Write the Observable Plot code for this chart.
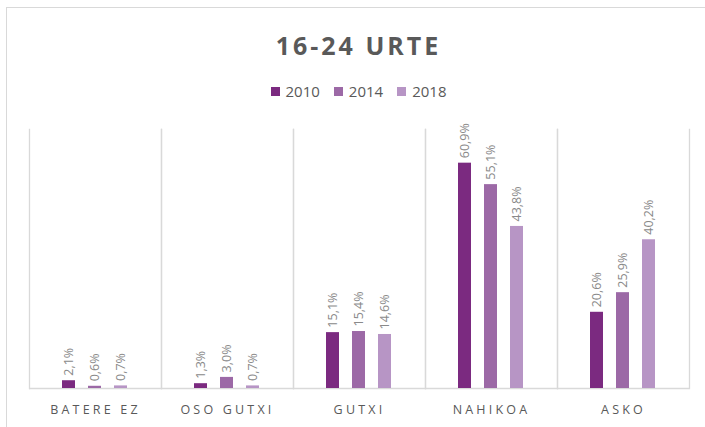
<!DOCTYPE html>
<html>
<head>
<meta charset="utf-8">
<script src="https://cdn.jsdelivr.net/npm/d3@7"></script>
<script src="https://cdn.jsdelivr.net/npm/@observablehq/plot@0.6"></script>
<style>
  html, body { margin: 0; padding: 0; background: #fff; width: 705px; height: 427px; overflow: hidden; }
  #wrap { position: relative; width: 705px; height: 427px; font-family: "Open Sans", "Liberation Sans", sans-serif; }
  #border { position: absolute; left: 6px; top: 7px; width: 760px; height: 460px; border-left: 1px solid #d9d9d9; border-top: 1px solid #d9d9d9; }
  #title { position: absolute; left: 6px; width: 705px; top: 27px; text-align: center; font-size: 25px; font-weight: bold; letter-spacing: 3px; color: #595959; line-height: 36px; }
  #legend { position: absolute; left: 6px; width: 705px; top: 80px; display: flex; justify-content: center; gap: 14px; font-size: 15px; color: #595959; line-height: 22px; }
  #legend span.item { display: flex; align-items: center; gap: 6px; }
  #legend span.sw { width: 9px; height: 9px; display: inline-block; }
  #chart { position: absolute; left: 0; top: 100px; }
</style>
</head>
<body>
<div id="wrap">
  <div id="border"></div>
  <div id="title">16-24 URTE</div>
  <div id="legend"></div>
  <div id="chart"></div>
</div>
<script>
const categories = ["BATERE EZ", "OSO GUTXI", "GUTXI", "NAHIKOA", "ASKO"];
const years = ["2010", "2014", "2018"];
const values2010 = [2.1, 1.3, 15.1, 60.9, 20.6];
const values2014 = [0.6, 3.0, 15.4, 55.1, 25.9];
const values2018 = [0.7, 0.7, 14.6, 43.8, 40.2];
const colors = ["#7b2a80", "#9c69a6", "#b795c5"];

const series = [values2010, values2014, values2018];
const data = [];
categories.forEach((c, i) => {
  years.forEach((y, j) => data.push({category: c, year: y, value: series[j][i]}));
});
const fmt = v => v.toFixed(1).replace(".", ",") + "%";

const legend = document.getElementById("legend");
years.forEach((y, j) => {
  const item = document.createElement("span");
  item.className = "item";
  const sw = document.createElement("span");
  sw.className = "sw";
  sw.style.background = colors[j];
  item.appendChild(sw);
  item.appendChild(document.createTextNode(y));
  legend.appendChild(item);
});

const plot = Plot.plot({
  width: 705,
  height: 327,
  marginLeft: 29,
  marginRight: 16,
  marginTop: 29,
  marginBottom: 39,
  style: {fontFamily: "'Open Sans', 'Liberation Sans', sans-serif", background: "transparent"},
  fx: {domain: categories, padding: 0, label: null},
  x: {domain: years, paddingInner: 0.481, paddingOuter: 1.185, axis: null},
  y: {domain: [0, 70], axis: null},
  color: {domain: years, range: colors},
  marks: [
    Plot.frame({anchor: "left", stroke: "#d9d9d9", strokeWidth: 1.3}),
    Plot.frame({anchor: "right", stroke: "#d9d9d9", strokeWidth: 1.3}),
    Plot.ruleY([0], {stroke: "#d9d9d9", strokeWidth: 1.3}),
    Plot.barY(data, {fx: "category", x: "year", y: "value", fill: "year"}),
    Plot.text(data, {fx: "category", x: "year", y: "value", text: d => fmt(d.value), rotate: -90, textAnchor: "start", dy: -5, fill: "#8a8a8a", fontSize: 12.5}),
    Plot.axisFx({anchor: "bottom", tickSize: 0, tickPadding: 17, fontSize: 12.5, fill: "#595959", label: null})
  ]
});
plot.querySelectorAll("g[aria-label='fx-axis tick label'] text, g[aria-label='fx-axis tick label']").forEach(t => t.style.letterSpacing = "3.2px");
document.getElementById("chart").appendChild(plot);
</script>
</body>
</html>
